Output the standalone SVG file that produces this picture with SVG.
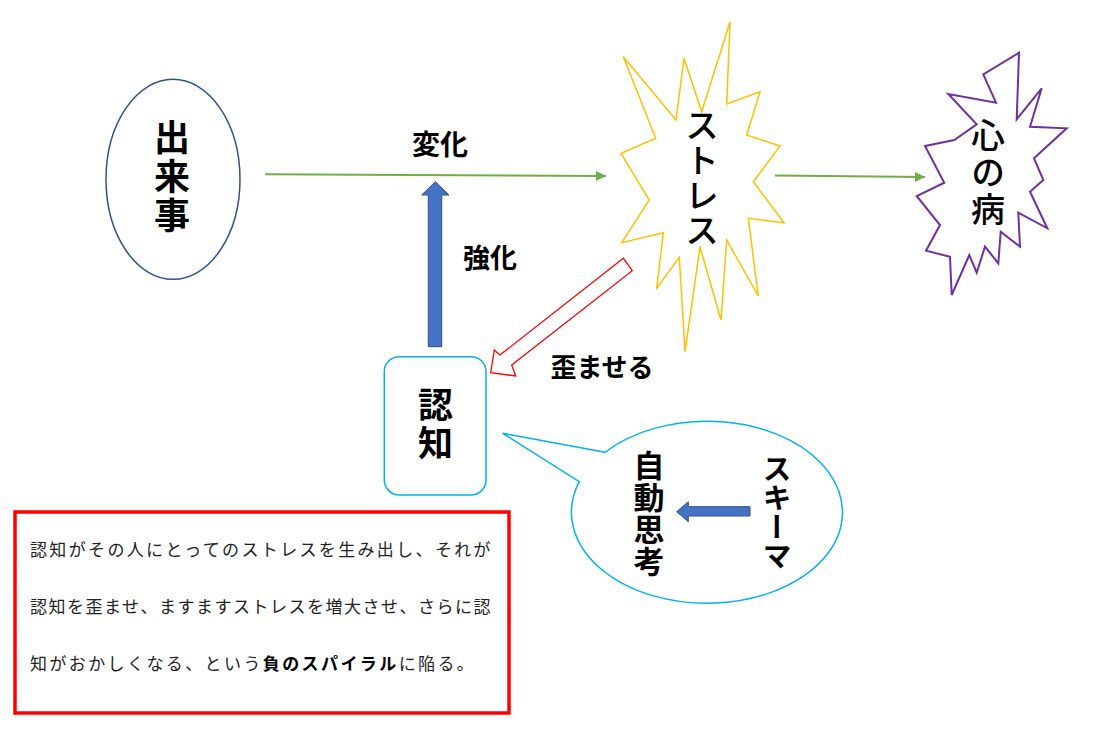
<svg xmlns="http://www.w3.org/2000/svg" width="1101" height="735" viewBox="0 0 1101 735">
  <style>
    .jp { font-family: "Noto Sans CJK JP", "Noto Sans", sans-serif; fill: #000; }
    .b { font-weight: 700; }
    .m { font-weight: 500; }
    .vert { writing-mode: vertical-rl; text-anchor: middle; }
    .lbl { text-anchor: middle; font-weight: 700; }
    .body { font-family: "Noto Sans CJK JP", sans-serif; font-size: 17px; fill: #222; letter-spacing: 2.4px; }
    .flow { stroke: #70AD47; stroke-width: 2; fill: none; marker-end: url(#greenHead); }
  </style>
  <defs>
    <marker id="greenHead" viewBox="0 0 10 10" refX="10" refY="5" markerWidth="5" markerHeight="5" orient="auto" markerUnits="strokeWidth">
      <path d="M0,0 L10,5 L0,10 z" fill="#70AD47"/>
    </marker>
  </defs>

  <rect width="1101" height="735" fill="#fff"/>

  <!-- event -->
  <g id="event">
    <ellipse cx="173" cy="179.3" rx="67" ry="100" fill="#fff" stroke="#2F528F" stroke-width="1.5"/>
    <text class="jp b vert" x="172" y="178" font-size="36" letter-spacing="3">出来事</text>
  </g>

  <!-- stress burst -->
  <g id="stress">
    <polygon points="730,21.7 726.7,104 760,91.7 746.7,135 780,146 753.3,181.7 784,222.7 748.3,218.3 758.3,296 726.7,240 721,320 700,246.7 685,351.7 679.3,257.3 656.7,288.3 663.3,232.7 621.7,242.7 649.3,200 621,153.3 655.7,138.3 623.3,56.7 676,120 684,58.3 701.7,111.7" fill="#fff" stroke="#FFC000" stroke-width="1.5"/>
    <text class="jp m vert" x="702" y="178" font-size="34" letter-spacing="1">ストレス</text>
  </g>

  <!-- mental illness burst -->
  <g id="illness">
    <polygon points="1019,52.7 1016.7,119.3 1041.7,88.3 1030,126.7 1066.7,128.3 1034,158.3 1043.3,180 1030,191.7 1047.3,228.3 1018.3,212.7 1020,246.7 1000.7,231.7 998.3,263.3 985,246.7 976.7,272.7 969.3,255 951.7,295 950,256.7 926,250.7 940,225 916.7,196 944.3,182.7 925,146 954.3,140 976.7,124.3 948.3,94 996,102.7 983.3,74.3" fill="#fff" stroke="#7030A0" stroke-width="2"/>
    <text class="jp m vert" x="988" y="174" font-size="34" letter-spacing="3">心の病</text>
  </g>

  <!-- cognition -->
  <g id="cognition">
    <rect x="384.3" y="356.7" width="101.7" height="138.3" rx="15" fill="#fff" stroke="#00B0F0" stroke-width="1.5"/>
    <text class="jp b vert" x="435.5" y="425" font-size="35" letter-spacing="3">認知</text>
  </g>

  <!-- schema / automatic thoughts bubble -->
  <g id="schema">
    <path d="M605,452.3 L502.7,433.3 L579.3,481.7 A135.5,91 0 1 0 605,452.3 Z" fill="#fff" stroke="#00B0F0" stroke-width="1.5"/>
    <text class="jp b vert" x="649" y="514" font-size="31" letter-spacing="1">自動思考</text>
    <text class="jp b vert" x="777" y="512" font-size="29">スキーマ</text>
  </g>

  <!-- explanation -->
  <g id="note">
    <rect x="15" y="512" width="494" height="201" fill="#fff" stroke="#FF0000" stroke-width="3.5"/>
    <text class="body" x="30" y="556" textLength="463" lengthAdjust="spacing">認知がその人にとってのストレスを生み出し、それが</text>
    <text class="body" x="30" y="613" textLength="463" lengthAdjust="spacing">認知を歪ませ、ますますストレスを増大させ、さらに認</text>
    <text class="body" x="30" y="670" letter-spacing="2">知がおかしくなる、という<tspan font-weight="700" fill="#000">負のスパイラル</tspan>に陥る。</text>
  </g>

  <!-- connectors -->
  <g id="connectors">
    <line class="flow" x1="265" y1="174.3" x2="606" y2="176"/>
    <line class="flow" x1="775" y1="175.5" x2="925" y2="177"/>
    <!-- strengthening: cognition back onto change -->
    <polygon points="428.3,346.7 428.3,195 421.7,195 435.3,181.7 449,195 441.7,195 441.7,346.7" fill="#4472C4" stroke="#2F528F" stroke-width="1"/>
    <!-- distortion: stress onto cognition -->
    <polygon points="623.3,258.3 500,355 494.3,350 490.7,372.7 515.7,376 511.7,365 632.3,270.7" fill="#fff" stroke="#FF0000" stroke-width="1.3"/>
    <!-- schema to automatic thoughts -->
    <polygon points="750,506.7 688.3,506.7 688.3,501.7 676.7,511.7 688.3,521.7 688.3,516 750,516" fill="#4472C4" stroke="#2F528F" stroke-width="1"/>
    <text class="jp lbl" x="440" y="155" font-size="28">変化</text>
    <text class="jp lbl" x="490" y="268" font-size="27">強化</text>
    <text class="jp lbl" x="602" y="377" font-size="26">歪ませる</text>
  </g>
</svg>
